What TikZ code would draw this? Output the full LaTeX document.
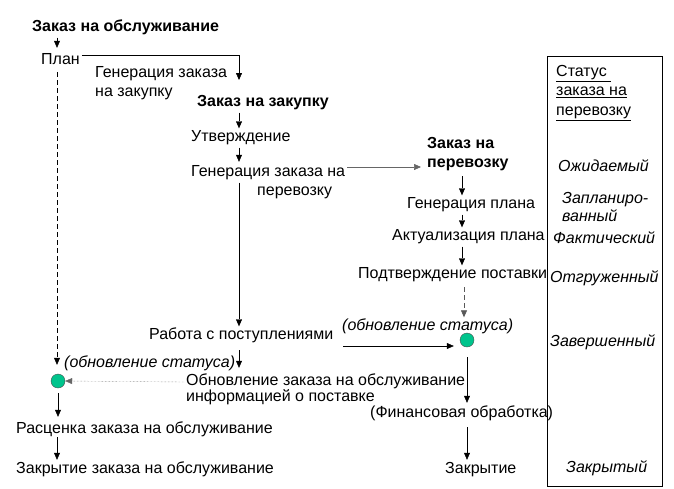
\documentclass[tikz,border=0pt]{standalone}
\usepackage{fontspec}
\setmainfont{Liberation Sans}
\usetikzlibrary{arrows.meta}

\definecolor{statusgreen}{RGB}{0,196,140}

\newcommand*{\colL}{57}
\newcommand*{\colM}{239}
\newcommand*{\colR}{462}

\begin{document}
\begin{tikzpicture}
[
	x=1pt, y=-1pt,
	every node/.style={font=\fontsize{16}{18}\selectfont,inner sep=2pt,text height=11pt,text depth=4pt},
	txt/.style={anchor=west},
	hdr/.style={anchor=west,font=\fontsize{16}{18}\selectfont\bfseries},
	stat/.style={anchor=west,font=\fontsize{16}{18}\selectfont\itshape},
	dot/.style={circle,draw=black!70,fill=statusgreen,inner sep=0pt,minimum size=14pt,text height=,text depth=},
	flow/.style={-{Triangle[length=7pt,width=6pt]},thin},
	longdash/.style={dash pattern=on 5pt off 3pt}
]

	\useasboundingbox (0,0) rectangle (674,488);

	% columns
	\coordinate (lx) at (\colL,0);
	\coordinate (mx) at (\colM,0);
	\coordinate (rx) at (\colR,0);

	% service order
	\node[hdr] at (30,28) (so) {Заказ на обслуживание};
	\node[txt] at (39,61) (plan) {План};
	\node[txt] at (93,74) (gpo1) {Генерация заказа};
	\node[txt] at (93,93) (gpo2) {на закупку};
	\coordinate (gpoend) at (\colM,80);

	% purchase order
	\node[hdr] at (195,103) (po) {Заказ на закупку};
	\node[txt] at (189,138) (appr) {Утверждение};
	\node[txt] at (189,173) (gto1) {Генерация заказа на};
	\node[txt] at (255,192) (gto2) {перевозку};
	\node[txt] at (147,336) (recv) {Работа с поступлениями};
	\node[stat,anchor=west] at (62,364) (upd1) {(обновление статуса)};
	\node[txt] at (184,382) (upso1) {Обновление заказа на обслуживание};
	\node[txt] at (184,398) (upso2) {информацией о поставке};
	\node[dot] at (58,381) (c1) {};
	\node[txt] at (14,430) (price) {Расценка заказа на обслуживание};
	\node[txt] at (14,470) (close1) {Закрытие заказа на обслуживание};

	% transport order
	\node[hdr] at (425,145) (to1) {Заказ на};
	\node[hdr] at (425,164) (to2) {перевозку};
	\node[txt] at (405,205) (gplan) {Генерация плана};
	\node[txt] at (390,237) (aplan) {Актуализация плана};
	\node[txt] at (356,275) (conf) {Подтверждение поставки};
	\node[stat] at (340,327) (upd2) {(обновление статуса)};
	\node[dot] at (467,340) (c2) {};
	\node[txt] at (368,414) (fin) {(Финансовая обработка)};
	\node[txt] at (443,470) (close2) {Закрытие};

	% status box
	\draw[thin] (547,56) rectangle (662,486.5);
	\node[txt] at (554,73) (st1) {\underline{Статус }};
	\node[txt] at (554,92) (st2) {\underline{заказа на}};
	\node[txt] at (554,112) (st3) {\underline{перевозку}};
	\node[stat] at (556,168) (s1) {Ожидаемый};
	\node[stat] at (560,200) (s2a) {Запланиро-};
	\node[stat] at (560,218) (s2b) {ванный};
	\node[stat] at (551,240) (s3) {Фактический};
	\node[stat] at (548,279) (s4) {Отгруженный};
	\node[stat] at (548,343) (s5) {Завершенный};
	\node[stat] at (564,469) (s6) {Закрытый};

	% left flow
	\draw[flow,shorten >=3.5pt] (so.south -| lx) -- (plan.north -| lx);
	\draw[flow] ([yshift=6pt]plan.east) -| (gpoend);
	\draw[flow,longdash,shorten <=1.5pt,shorten >=9pt] (plan.south -| lx) -- (c1.north -| lx);
	\draw[flow,shorten <=5pt,shorten >=3.5pt] (c1.south) -- (price.north -| c1);
	\draw[flow,shorten <=-2.5pt,shorten >=0.5pt] (price.south -| lx) -- (close1.north -| lx);

	% middle flow
	\draw[flow] (po.south -| mx) -- (appr.north -| mx);
	\draw[flow,shorten >=1.5pt] (appr.south -| mx) -- (gto1.north -| mx);
	\draw[flow] (gto1.south -| mx) -- (recv.north -| mx);
	\draw[flow,shorten <=4.5pt,shorten >=4.5pt] (recv.south -| mx) -- (upso1.north -| mx);
	\draw[flow,densely dotted,black!60] (upso1.west) -- (c1.east);
	\draw[flow,black!60,semithick,shorten >=4pt] ([yshift=6pt]gto1.east) -- ([yshift=6pt]gto1.east -| to2.west);

	% right flow
	\draw[flow,shorten <=2.5pt] (to2.south -| rx) -- (gplan.north -| rx);
	\draw[flow] (gplan.south -| rx) -- (aplan.north -| rx);
	\draw[flow] (aplan.south -| rx) -- (conf.north -| rx);
	\draw[flow,longdash,black!65,semithick,shorten <=2.5pt] ([xshift=2pt]conf.south -| rx) -- ([xshift=2pt]upd2.north -| rx);
	\draw[flow,shorten <=8pt,shorten >=6pt] ([yshift=-10pt]recv.east) -- ([yshift=-10pt]recv.east -| c2.west);
	\draw[flow,shorten <=10pt,shorten >=1.5pt] (c2.south) -- (fin.north -| c2);
	\draw[flow,shorten <=3.5pt,shorten >=0.5pt] (fin.south -| c2) -- (close2.north -| c2);

\end{tikzpicture}
\end{document}
